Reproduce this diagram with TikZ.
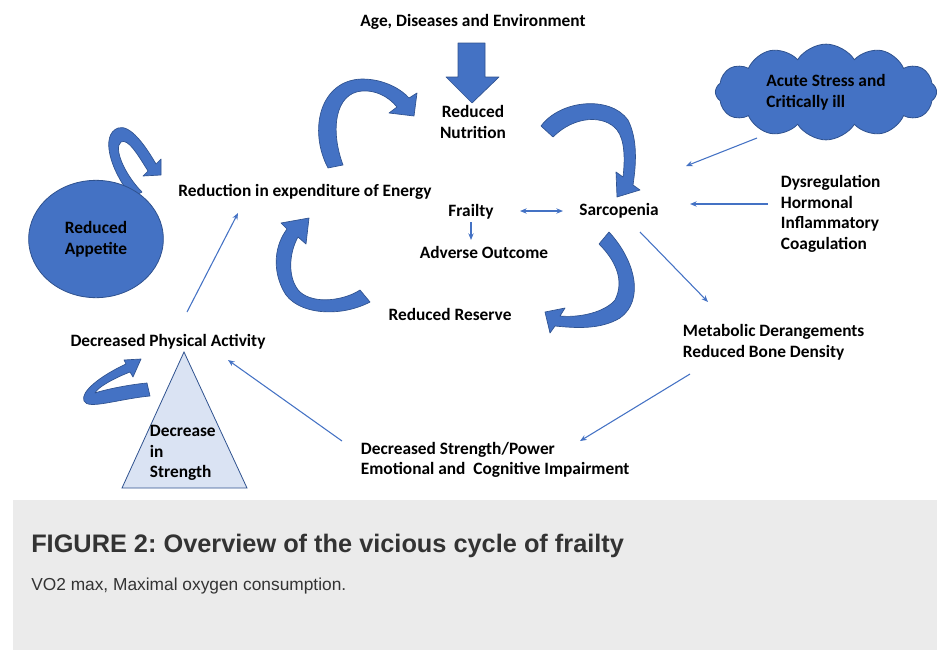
\documentclass[tikz,border=0pt]{standalone}
\usepackage{fontspec}
\setmainfont{Carlito}
\newfontfamily\capfont{Liberation Sans}
\usetikzlibrary{positioning,arrows.meta,calc,shapes.geometric,shapes.symbols}
\frenchspacing

\definecolor{ribbon}{HTML}{4472C4}
\definecolor{ribbonedge}{HTML}{2F528F}
\definecolor{trifill}{HTML}{DAE3F3}
\definecolor{capgray}{HTML}{EBEBEB}
\definecolor{capink}{HTML}{333333}

\begin{document}
\begin{tikzpicture}[
  x=0.75pt, y=-0.75pt,
  every node/.style={font=\fontsize{13}{15.5}\selectfont\bfseries},
  % plain bold labels of the cycle
  lbl/.style={align=center, inner sep=2pt},
  lblleft/.style={align=left, anchor=west, inner sep=2pt},
  % wide curved ribbons and block arrow
  band/.style={fill=ribbon, draw=ribbonedge, line width=0.5pt, line join=round},
  blob/.style={ellipse, fill=ribbon, draw=ribbonedge, line width=0.6pt,
    minimum width=101pt, minimum height=88pt, align=center},
  puff/.style={cloud, cloud puffs=12, cloud puff arc=115, aspect=2.5,
    fill=ribbon, draw=ribbonedge, line width=0.6pt,
    minimum width=166pt, minimum height=66pt, align=left},
  tri/.style={fill=trifill, draw=ribbonedge, line width=0.6pt},
  link/.style={draw=ribbon, line width=0.8pt, -{Stealth[length=5pt,width=4pt]}}
]
\useasboundingbox (0,0) rectangle (937,650);

% caption panel
\fill[capgray] (13,500) rectangle (937,650);

% block arrow from the top label
\draw[band] (458,43) -- (485,43) -- (485,77) -- (499,77) -- (472,103)
  -- (446,77) -- (458,77) -- cycle;

% curved ribbons of the cycle
\draw[band] (328,168) .. controls (308,130) and (320,80) .. (362,79)
  .. controls (385,79) and (402,90) .. (409,98) -- (417,93) -- (414,116)
  -- (389,113) -- (397,107) .. controls (388,96) and (375,90) .. (362,91)
  .. controls (335,93) and (330,130) .. (343,165) -- cycle;
\draw[band] (541,126) .. controls (560,100) and (610,95) .. (628,120)
  .. controls (638,140) and (636,165) .. (633,185) -- (640,190) -- (617,197)
  -- (616,172) -- (623,177) .. controls (625,160) and (625,140) .. (617,130)
  .. controls (605,115) and (575,115) .. (553,137) -- cycle;
\draw[band] (609,232) .. controls (635,260) and (645,300) .. (620,318)
  .. controls (600,330) and (575,328) .. (555,326) -- (550,333) -- (545,312)
  -- (565,308) -- (560,316) .. controls (580,318) and (605,312) .. (615,300)
  .. controls (625,280) and (615,260) .. (599,244) -- cycle;
\draw[band] (370,302) .. controls (340,318) and (295,315) .. (283,290)
  .. controls (272,268) and (275,245) .. (287,229) -- (281,223) -- (309,218)
  -- (306,244) -- (298,237) .. controls (288,255) and (288,280) .. (300,292)
  .. controls (315,305) and (345,300) .. (360,290) -- cycle;
% small loops
\draw[band] (132,197) .. controls (110,170) and (100,135) .. (118,128)
  .. controls (130,124) and (145,145) .. (156,164) -- (161,159) -- (161,175)
  -- (143,176) -- (148,171) .. controls (138,155) and (128,138) .. (121,142)
  .. controls (113,148) and (125,175) .. (142,192) -- cycle;
\draw[band] (150,396) .. controls (118,399) and (88,410) .. (84,401)
  .. controls (80,392) and (100,376) .. (126,364) -- (124,360) -- (141,359)
  -- (133,377) -- (130,372) .. controls (112,379) and (97,388) .. (95,393)
  .. controls (100,391) and (125,385) .. (147,383) -- cycle;

\draw[tri] (184,352) -- (247,488) -- (122,488) -- cycle;

\node[lbl] (age) at (473,22) {Age, Diseases and Environment};
\node[lbl] (nutr) at (473,122) {Reduced\\Nutrition};
\node[lbl] (energy) at (305,192) {Reduction in expenditure of Energy};
\node[lbl] (frailty) at (471,212) {Frailty};
\node[lbl] (adverse) at (484,252) {Adverse Outcome};
\node[lbl] (sarco) at (619,211) {Sarcopenia};
\node[lbl] (reserve) at (450,314) {Reduced Reserve};
\node[lbl] (activity) at (168,342) {Decreased Physical Activity};
\node[blob] (appetite) at (96,239) {Reduced\\Appetite};
\node[puff] (stress) at (826,92) {Acute Stress and\\Critically ill};
\node[lblleft] (dysreg) at (778,214) {Dysregulation\\Hormonal\\Inflammatory\\Coagulation};
\node[lblleft] (metab) at (680,342) {Metabolic Derangements\\Reduced Bone Density};
\node[lblleft] (power) at (358,460) {Decreased Strength/Power\\Emotional and\ \ Cognitive Impairment};
\node[lblleft] (decr) at (147,453) {Decrease\\in\\Strength};

% thin connectors
\draw[link] ($(stress)+(-69,46)$) -- ($(sarco)+(67,-45)$);
\draw[link] ($(dysreg.west)+(-10,-10)$) -- ($(sarco)+(71,-7)$);
\draw[link] ($(sarco)+(21,21)$) -- ($(metab.west)+(28,-40)$);
\draw[link] ($(metab.west)+(10,32)$) -- ($(power.west)+(222,-19)$);
\draw[link] ($(power.west)+(-16,-19)$) -- ($(activity)+(60,18)$);
\draw[link] ($(activity)+(19,-30)$) -- ($(energy)+(-67,21)$);
\draw[link] ($(frailty)+(0,10)$) -- ($(adverse)+(-13,-12)$);
\draw[link, {Stealth[length=5pt,width=4pt]}-{Stealth[length=5pt,width=4pt]}]
  ($(frailty)+(49,-1)$) -- ($(sarco)+(-56,0)$);

\node[anchor=base west, inner sep=0pt, text=capink,
  font=\capfont\bfseries\fontsize{19}{22}\selectfont] (title) at (31,552)
  {FIGURE 2: Overview of the vicious cycle of frailty};
\node[anchor=base west, inner sep=0pt, text=capink,
  font=\capfont\fontsize{13}{15}\selectfont] (legend) at (31,590)
  {VO2 max, Maximal oxygen consumption.};
\end{tikzpicture}
\end{document}
